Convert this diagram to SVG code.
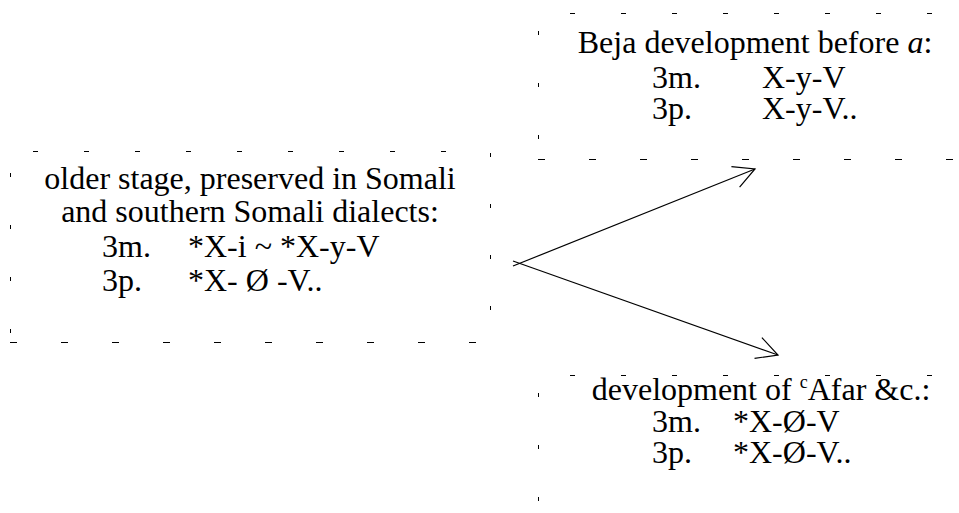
<svg xmlns="http://www.w3.org/2000/svg" width="959" height="513" viewBox="0 0 959 513">
<style>
.t{font-family:"Liberation Serif","Times New Roman",serif;font-size:32px;fill:#000}
.d{stroke:#000;stroke-width:1;fill:none}
.c{stroke:#000;stroke-width:1.2;fill:none}
</style>
<defs>
<marker id="ah" markerUnits="userSpaceOnUse" markerWidth="30" markerHeight="30" viewBox="-25 -15 30 30" refX="0" refY="0" orient="auto" overflow="visible">
<path d="M-21,-11 L0,0 L-21,11" fill="none" stroke="#000" stroke-width="1.2"/>
</marker>
</defs>
<rect width="959" height="513" fill="#fff"/>
<g id="older">
<path class="d" d="M33,151.5h430" stroke-dasharray="5 46"/>
<path class="d" d="M10,342.5h470" stroke-dasharray="7 44" stroke-width="1.5"/>
<path class="d" d="M10.5,173v165" stroke-dasharray="4 48"/>
<path class="d" d="M490.5,153v160" stroke-dasharray="4 47"/>
<text class="t" x="250" y="189" text-anchor="middle">older stage, preserved in Somali</text>
<text class="t" x="250" y="222" text-anchor="middle">and southern Somali dialects:</text>
<text class="t" x="102" y="257">3m.</text>
<text class="t" x="188" y="257">*X-i ~ *X-y-V</text>
<text class="t" x="102" y="291">3p.</text>
<text class="t" x="188" y="291">*X- Ø -V..</text>
</g>
<g id="beja">
<path class="d" d="M570,13.5h370" stroke-dasharray="5 46"/>
<path class="d" d="M538,159.5h421" stroke-dasharray="7 44" stroke-width="1.5"/>
<path class="d" d="M538.5,31v110" stroke-dasharray="4 48"/>
<text class="t" x="755" y="53" text-anchor="middle">Beja development before <tspan font-style="italic">a</tspan>:</text>
<text class="t" x="652" y="88">3m.</text>
<text class="t" x="762" y="88">X-y-V</text>
<text class="t" x="652" y="119">3p.</text>
<text class="t" x="762" y="119">X-y-V..</text>
</g>
<g id="afar">
<path class="d" d="M570,375.5h370" stroke-dasharray="5 46"/>
<path class="d" d="M538.5,393v110" stroke-dasharray="4 48"/>
<text class="t" x="761" y="400" text-anchor="middle">development of <tspan font-size="18" dy="-12">c</tspan><tspan dy="12">Afar &amp;c.:</tspan></text>
<text class="t" x="652" y="432">3m.</text>
<text class="t" x="733" y="432">*X-Ø-V</text>
<text class="t" x="652" y="463">3p.</text>
<text class="t" x="733" y="463">*X-Ø-V..</text>
</g>
<g id="connectors">
<path class="c" d="M513,266L755,169" marker-end="url(#ah)"/>
<path class="c" d="M513,261L778,355" marker-end="url(#ah)"/>
</g>
</svg>
